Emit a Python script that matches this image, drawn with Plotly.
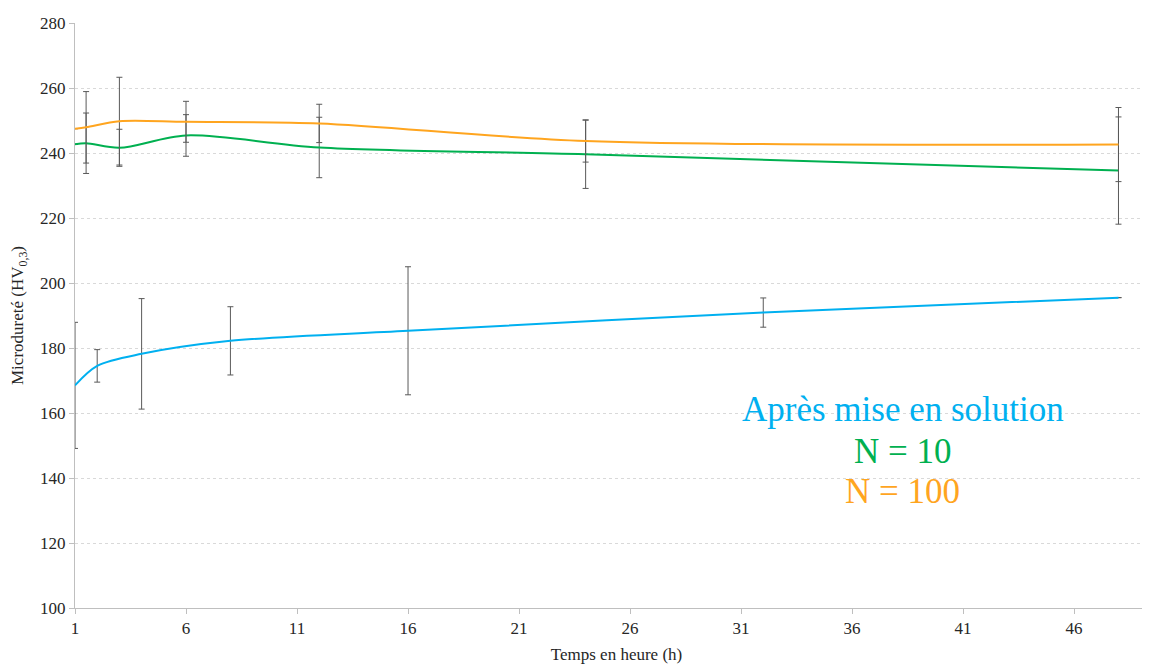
import plotly.graph_objects as go

# Après mise en solution
t_sol = [1, 2, 4, 8, 16, 32, 48]
hv_sol = [168.5, 174.5, 178.2, 182.2, 185.3, 190.9, 195.5]
err_sol = [19.4, 5.0, 17.0, 10.5, 19.7, 4.5, 0]

# N = 10
t_n10 = [1, 1.5, 3, 6, 12, 24, 48]
hv_n10 = [242.7, 243.0, 241.6, 245.4, 241.7, 239.6, 234.6]
err_n10 = [0, 9.3, 5.7, 6.4, 9.3, 10.5, 16.5]

# N = 100
t_n100 = [1, 1.5, 3, 6, 12, 24, 48]
hv_n100 = [247.5, 247.9, 249.8, 249.6, 249.1, 243.7, 242.6]
err_n100 = [0, 11.0, 13.5, 6.3, 5.9, 6.5, 11.4]

x_ticks = [1, 6, 11, 16, 21, 26, 31, 36, 41, 46]
y_ticks = [100, 120, 140, 160, 180, 200, 220, 240, 260, 280]

labels = ["Après mise en solution", "N = 10", "N = 100"]

C_SOL = "#00B0F0"
C_N10 = "#00B050"
C_N100 = "#FFA51F"
ERR_C = "#595959"

fig = go.Figure()

def add(t, v, e, color, name):
    fig.add_trace(go.Scatter(
        x=t, y=v, mode="lines", name=name,
        line=dict(color=color, width=2, shape="spline", smoothing=0.9),
        error_y=dict(type="data", array=e, visible=True, color=ERR_C,
                     thickness=1, width=3),
        showlegend=False,
    ))

add(t_sol, hv_sol, err_sol, C_SOL, labels[0])
add(t_n10, hv_n10, err_n10, C_N10, labels[1])
add(t_n100, hv_n100, err_n100, C_N100, labels[2])

font_fam = "Times New Roman, Liberation Serif, serif"

# white text box (hides gridlines)
fig.add_shape(type="rect", xref="paper", yref="paper",
              x0=0.6076, x1=0.9215, y0=0.1538, y1=0.3846,
              fillcolor="white", line=dict(width=0), layer="between")

for txt, col, yp in zip(labels, [C_SOL, C_N10, C_N100], [0.3385, 0.2667, 0.1983]):
    fig.add_annotation(
        xref="paper", yref="paper", x=0.7645, y=yp,
        xanchor="center", yanchor="middle", showarrow=False,
        text=txt, font=dict(family=font_fam, size=35, color=col),
    )

fig.update_layout(
    width=1150, height=664,
    margin=dict(l=67, r=0, t=15, b=64),
    paper_bgcolor="white", plot_bgcolor="white",
    font=dict(family=font_fam, size=16, color="#262626"),
    xaxis=dict(
        range=[1, 49.78], tickmode="array", tickvals=x_ticks,
        ticktext=[str(v) for v in x_ticks],
        showgrid=False, zeroline=False, automargin=False,
        showline=True, linecolor="#BFBFBF", linewidth=1,
        ticks="outside", ticklen=5, tickcolor="#BFBFBF",
        title=dict(text="Temps en heure (h)", standoff=10,
                   font=dict(family=font_fam, size=17)),
        tickfont=dict(family=font_fam, size=17),
    ),
    yaxis=dict(
        range=[100, 280], tickmode="array", tickvals=y_ticks,
        showgrid=True, gridcolor="#D9D9D9", griddash="dot", gridwidth=1,
        zeroline=False, automargin=False,
        showline=True, linecolor="#BFBFBF", linewidth=1,
        ticks="outside", ticklen=5, tickcolor="#BFBFBF",
        title=dict(text="Microdureté (HV<sub>0,3</sub>)", standoff=12,
                   font=dict(family=font_fam, size=17)),
        tickfont=dict(family=font_fam, size=17),
    ),
)

fig.write_html("out.html")
